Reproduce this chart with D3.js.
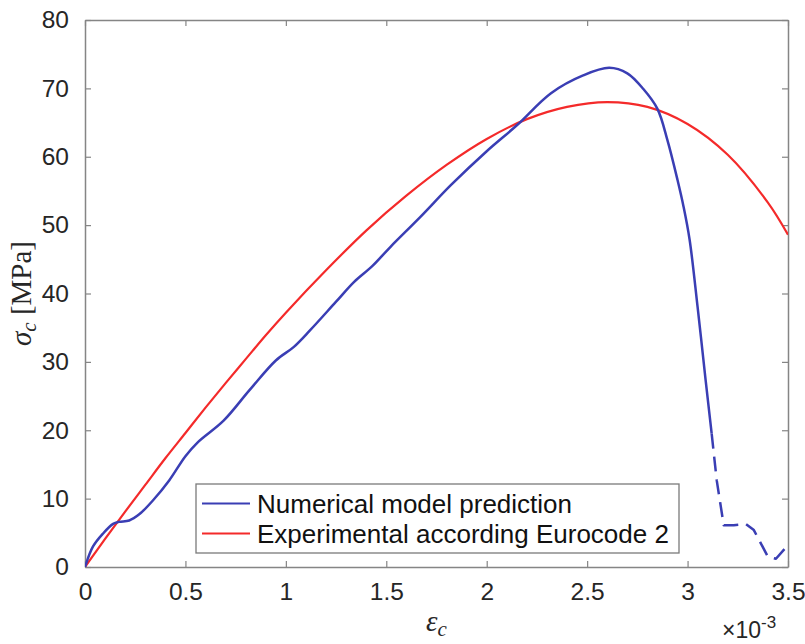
<!DOCTYPE html>
<html>
<head>
<meta charset="utf-8">
<script src="https://cdn.jsdelivr.net/npm/d3@7"></script>
<style>
  html, body { margin: 0; padding: 0; background: #fff; }
  svg { display: block; }
</style>
</head>
<body>
<svg id="chart" width="805" height="644"></svg>
<script>
// ---- data (strain in 1e-3, stress in MPa) ----
const xTicks = [0, 0.5, 1, 1.5, 2, 2.5, 3, 3.5];
const xTickLabels = ["0", "0.5", "1", "1.5", "2", "2.5", "3", "3.5"];
const yTicks = [0, 10, 20, 30, 40, 50, 60, 70, 80];
const yTickLabels = ["0", "10", "20", "30", "40", "50", "60", "70", "80"];
const seriesNames = ["Numerical model prediction", "Experimental according Eurocode 2"];

const numStrainSolid = [0, 0.04, 0.09, 0.14, 0.17, 0.22, 0.27, 0.34, 0.42, 0.50, 0.56, 0.69, 0.82, 0.95, 1.04, 1.12, 1.25, 1.34, 1.43, 1.52, 1.67, 1.82, 2.00, 2.15, 2.32, 2.48, 2.61, 2.70, 2.78, 2.85, 2.90, 2.95, 2.98, 3.01, 3.05, 3.09, 3.12];
const numStressSolid = [0, 3.0, 4.9, 6.3, 6.6, 6.8, 7.7, 9.8, 12.7, 16.2, 18.2, 21.4, 25.9, 30.2, 32.2, 34.6, 38.8, 41.7, 44.0, 46.8, 51.2, 55.8, 60.8, 64.6, 69.3, 71.9, 73.0, 72.2, 69.9, 67.0, 62.4, 56.6, 52.7, 47.9, 38.0, 27.3, 19.5];
const numStrainDashed = [3.12, 3.145, 3.18, 3.23, 3.29, 3.33, 3.40, 3.44, 3.50];
const numStressDashed = [19.5, 12.7, 6.1, 6.1, 6.3, 5.4, 1.5, 1.2, 3.2];

const expStrain = [0, 0.1, 0.2, 0.3, 0.4, 0.5, 0.6, 0.7, 0.8, 0.9, 1.0, 1.2, 1.4, 1.6, 1.8, 2.0, 2.2, 2.4, 2.6, 2.8, 3.0, 3.2, 3.4, 3.5];
const expStress = [0, 4.1, 8.1, 12.0, 15.9, 19.6, 23.3, 26.9, 30.4, 33.9, 37.2, 43.4, 49.2, 54.3, 58.8, 62.6, 65.5, 67.3, 68.0, 67.3, 64.8, 60.3, 53.3, 48.6];

// ---- layout ----
const L = 85, R = 788, T = 20, B = 567;
const axisColor = "#858585";
const textColor = "#262626";
const blue = "#3a3eb4";
const red = "#f42a2a";

const svg = d3.select("#chart");
const x = d3.scaleLinear().domain([0, 3.5]).range([L, R]);
const y = d3.scaleLinear().domain([0, 80]).range([B, T]);

const zip = (a, b) => a.map((v, i) => [v, b[i]]);
const smooth = d3.line().x(d => x(d[0])).y(d => y(d[1])).curve(d3.curveCatmullRom.alpha(0.5));
const straight = d3.line().x(d => x(d[0])).y(d => y(d[1]));

// clip
svg.append("defs").append("clipPath").attr("id", "clip")
  .append("rect").attr("x", L).attr("y", T).attr("width", R - L).attr("height", B - T);

// axes (box with inward ticks on all sides)
const tickLen = 6;
const bottomAxis = d3.axisBottom(x).tickValues(xTicks).tickSizeInner(-tickLen).tickSizeOuter(0)
  .tickFormat((d, i) => xTickLabels[i]).tickPadding(16);
const topAxis = d3.axisTop(x).tickValues(xTicks).tickSizeInner(-tickLen).tickSizeOuter(0).tickFormat("");
const leftAxis = d3.axisLeft(y).tickValues(yTicks).tickSizeInner(-tickLen).tickSizeOuter(0)
  .tickFormat((d, i) => yTickLabels[i]).tickPadding(16);
const rightAxis = d3.axisRight(y).tickValues(yTicks).tickSizeInner(-tickLen).tickSizeOuter(0).tickFormat("");

function styleAxis(g) {
  g.selectAll("path.domain").attr("stroke", axisColor).attr("stroke-width", 1.5);
  g.selectAll(".tick line").attr("stroke", axisColor).attr("stroke-width", 1.2);
  g.selectAll(".tick text").attr("fill", textColor)
    .style("font-family", "'Liberation Sans', Arial, Helvetica, sans-serif")
    .style("font-size", "24.5px");
}

svg.append("g").attr("transform", `translate(0,${B})`).call(bottomAxis).call(styleAxis);
svg.append("g").attr("transform", `translate(0,${T})`).call(topAxis).call(styleAxis);
svg.append("g").attr("transform", `translate(${L},0)`).call(leftAxis).call(styleAxis);
svg.append("g").attr("transform", `translate(${R},0)`).call(rightAxis).call(styleAxis);

// curves
const plot = svg.append("g").attr("clip-path", "url(#clip)");
plot.append("path").datum(zip(expStrain, expStress))
  .attr("d", smooth).attr("fill", "none").attr("stroke", red).attr("stroke-width", 2.2);
plot.append("path").datum(zip(numStrainSolid, numStressSolid))
  .attr("d", smooth).attr("fill", "none").attr("stroke", blue).attr("stroke-width", 2.5)
  .attr("stroke-linejoin", "round");
plot.append("path").datum(zip(numStrainDashed, numStressDashed))
  .attr("d", straight).attr("fill", "none").attr("stroke", blue).attr("stroke-width", 2.5)
  .attr("stroke-dasharray", "15,8").attr("stroke-linejoin", "round");

// legend
const lg = svg.append("g");
lg.append("rect").attr("x", 196).attr("y", 484).attr("width", 483).attr("height", 69)
  .attr("fill", "#fff").attr("stroke", "#7a7a7a").attr("stroke-width", 1.3);
const legendColors = [blue, red];
seriesNames.forEach((name, i) => {
  const cy = 503.5 + i * 30;
  lg.append("line").attr("x1", 202).attr("x2", 250).attr("y1", cy).attr("y2", cy)
    .attr("stroke", legendColors[i]).attr("stroke-width", 2.2);
  lg.append("text").attr("x", 257).attr("y", cy + 9.5).text(name)
    .attr("fill", "#111")
    .style("font-family", "'Liberation Sans', Arial, Helvetica, sans-serif")
    .style("font-size", "26px");
});

// axis labels
const xl = svg.append("text").attr("x", (L + R) / 2).attr("y", 631).attr("text-anchor", "middle")
  .attr("fill", textColor).style("font-family", "'Liberation Serif', 'DejaVu Serif', serif").style("font-size", "29px");
xl.append("tspan").style("font-style", "italic").text("ε");
xl.append("tspan").style("font-style", "italic").style("font-size", "21px").attr("dy", 5).text("c");

const yl = svg.append("text").attr("transform", `translate(31,${(T + B) / 2}) rotate(-90)`)
  .attr("text-anchor", "middle").attr("fill", textColor)
  .style("font-family", "'Liberation Serif', 'DejaVu Serif', serif").style("font-size", "29px");
yl.append("tspan").style("font-style", "italic").text("σ");
yl.append("tspan").style("font-style", "italic").style("font-size", "21px").attr("dy", 5).text("c");
yl.append("tspan").attr("dy", -5).text(" [MPa]");

// exponent label
const ex = svg.append("text").attr("x", 722).attr("y", 638).attr("fill", textColor)
  .style("font-family", "'Liberation Sans', Arial, Helvetica, sans-serif").style("font-size", "23px");
ex.append("tspan").text("×10");
ex.append("tspan").attr("dy", -10).style("font-size", "17px").text("-3");
</script>
</body>
</html>
